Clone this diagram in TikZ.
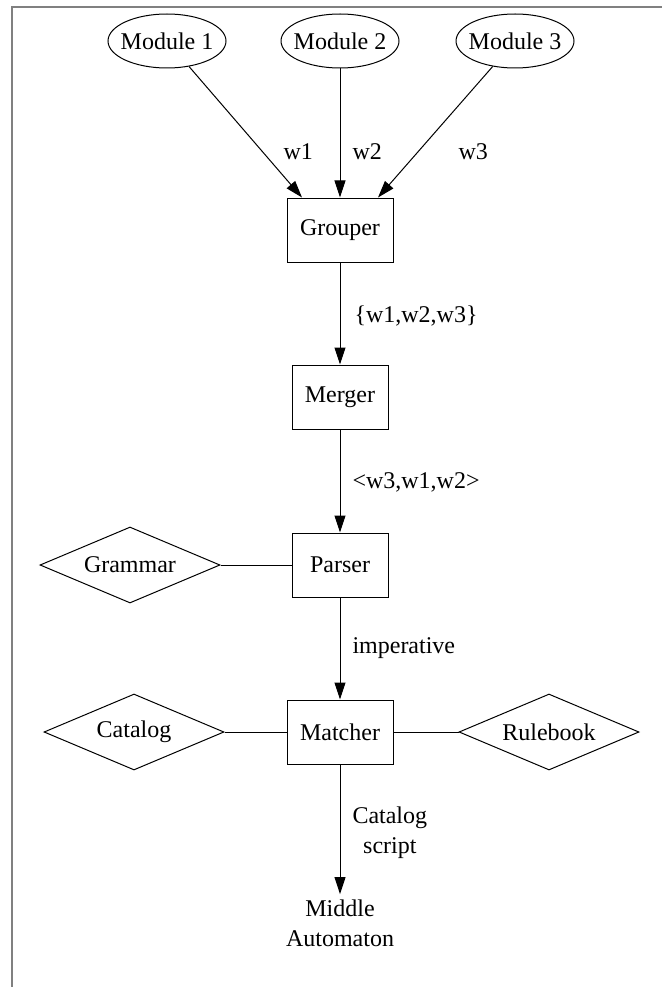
\documentclass[tikz,border=0pt]{standalone}
\usepackage{fontspec}
\setmainfont{Liberation Serif}
\usetikzlibrary{shapes.geometric,arrows.meta}
\begin{document}
\begin{tikzpicture}[x=1pt,y=-1pt,
  font=\fontsize{24}{30}\selectfont,
  every node/.style={line width=1pt},
  modnode/.style={draw, ellipse, minimum width=118pt, minimum height=54pt, inner xsep=-7pt, inner ysep=0pt},
  boxnode/.style={draw, rectangle, minimum width=96pt, minimum height=64pt, inner sep=0pt},
  dianode/.style={draw, diamond, minimum width=180pt, minimum height=76pt, inner sep=0pt, aspect=2.4},
  plainnode/.style={inner sep=0pt, align=center},
  lbl/.style={inner sep=0pt, anchor=west, align=center},
  arr/.style={line width=1pt, -{Triangle[length=17pt,width=11pt]}},
  link/.style={line width=1pt}]
\useasboundingbox (0,0) rectangle (662,987);
\draw[line width=2pt, color=black!50] (12,987) -- (12,7) -- (662,7);

\node[modnode] (m1) at (167,41) {Module 1};
\node[modnode] (m2) at (340,41) {Module 2};
\node[modnode] (m3) at (515,41) {Module 3};

\node[boxnode, minimum width=106pt] (grp) at (340,230) {Grouper};
\node[boxnode] (mrg) at (340,397) {Merger};
\node[boxnode] (prs) at (340,565) {Parser};
\node[boxnode, minimum width=106pt] (mat) at (340,732) {Matcher};
\node[plainnode] (mid) at (340,923) {Middle\\Automaton};

\node[dianode] (gram) at (130,565) {Grammar};
\node[dianode] (cat) at (134,732) {Catalog};
\node[dianode] (rule) at (549,732) {Rulebook};

\draw[arr] (m1) -- ([xshift=-38pt]grp.north);
\draw[arr] (m2) -- (grp);
\draw[arr] (m3) -- ([xshift=38pt]grp.north);
\draw[arr] (grp) -- (mrg);
\draw[arr] (mrg) -- (prs);
\draw[arr] (prs) -- (mat);
\draw[arr] (mat) -- ([yshift=5pt]mid.north);
\draw[link] (gram) -- (prs);
\draw[link] (cat) -- (mat);
\draw[link] (mat) -- (rule);

\node[lbl] (l1) at (283,152) {w1};
\node[lbl] (l2) at (352,152) {w2};
\node[lbl] (l3) at (458,152) {w3};
\node[lbl] (l4) at (354,316) {\{w1,w2,w3\}};
\node[lbl] (l5) at (352,482) {<w3,w1,w2>};
\node[lbl] (l6) at (352,648) {imperative};
\node[lbl] (l7) at (352,833) {Catalog\\script};
\end{tikzpicture}
\end{document}
